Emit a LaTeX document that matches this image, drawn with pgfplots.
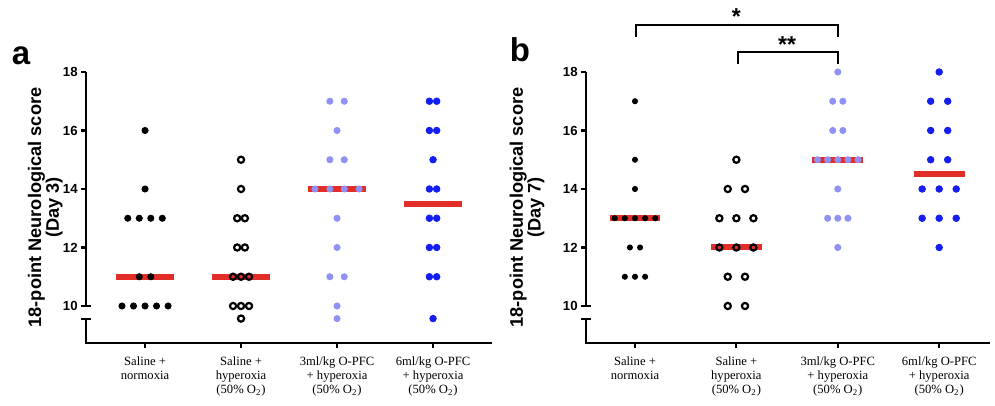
\documentclass[border=0pt]{standalone}
\usepackage{fontspec}
\setmainfont{Liberation Serif}
\setsansfont{Liberation Sans}
\usepackage{pgfplots}
\pgfplotsset{compat=1.18}

\definecolor{medred}{RGB}{226,46,40}
\definecolor{ltblue}{RGB}{145,145,245}
\definecolor{dkblue}{RGB}{20,30,240}

\pgfplotsset{
  prism/.style={
    axis x line=bottom, axis y line=left,
    axis line style={draw=none},
    ymin=8.735, ymax=18,
    ytick={10,12,14,16,18},
    xtick={0,1,2,3},
    tick align=outside,
    major tick length=2.5pt,
    every tick/.style={black, line width=1.1pt},
    yticklabel style={font=\sffamily\bfseries\fontsize{6.6}{7}\selectfont, inner sep=1.5pt},
    xticklabel style={font=\fontsize{6.3}{6.8}\selectfont, align=center, yshift=-1pt},
    /pgf/number format/assume math mode=true,
    clip=false,
    ylabel style={font=\sffamily\bfseries\fontsize{9.1}{8.9}\selectfont, align=center, anchor=center},
    anchor=south west,
    y=14.625pt,
  },
  median/.style={medred, line width=3pt, forget plot},
  blackdot/.style={only marks, mark=*, mark size=1.55pt, black},
  opendot/.style={only marks, mark=o, mark size=1.55pt, black, mark options={line width=1.1pt}},
  ltdot/.style={only marks, mark=*, mark size=1.55pt, ltblue},
  bldot/.style={only marks, mark=*, mark size=1.65pt, dkblue},
}

\begin{document}
\begin{tikzpicture}
\path[use as bounding box] (0,0) rectangle (497.5pt,-203pt);
\node[anchor=base, font=\sffamily\bfseries\fontsize{16.5}{16.5}\selectfont] at (10.5pt,-32.5pt) {a};
\node[anchor=base, font=\sffamily\bfseries\fontsize{16.5}{16.5}\selectfont] at (260pt,-31pt) {b};

% Day 3
\begin{axis}[prism, at={(43pt,-171.5pt)}, x=48pt, xmin=-0.615, xmax=3.615,
  ylabel={18-point Neurological score\\(Day 3)},
  ylabel style={at={(axis description cs:-0.1,0.5)}},
  xticklabels={{Saline +\\normoxia},{Saline +\\hyperoxia\\(50\% O\textsubscript{2})},
    {3ml/kg O-PFC\\+ hyperoxia\\(50\% O\textsubscript{2})},{6ml/kg O-PFC\\+ hyperoxia\\(50\% O\textsubscript{2})}}]
\draw[line width=1.2pt] (axis cs:-0.615,18) -- (axis cs:-0.615,10);
\draw[line width=1.1pt] ([xshift=-2.5pt]axis cs:-0.615,10) -- ([xshift=2.5pt]axis cs:-0.615,10);
\draw[line width=1.1pt] ([xshift=-2.5pt]axis cs:-0.615,9.556) -- ([xshift=2.5pt]axis cs:-0.615,9.556);
\draw[line width=1.2pt, line join=miter] (axis cs:-0.615,9.556) -- (axis cs:-0.615,8.735) -- (axis cs:3.615,8.735);

\addplot[median] coordinates {(-0.3,11) (0.3,11)};
\addplot[median] coordinates {(0.7,11) (1.3,11)};
\addplot[median] coordinates {(1.7,14) (2.3,14)};
\addplot[median] coordinates {(2.7,13.5) (3.3,13.5)};

\addplot[blackdot] coordinates {
  (0,16) (0,14)
  (-0.18,13) (-0.06,13) (0.06,13) (0.18,13)
  (-0.06,11) (0.06,11)
  (-0.24,10) (-0.12,10) (0,10) (0.12,10) (0.24,10)};
\addplot[opendot] coordinates {
  (1,15) (1,14)
  (0.96,13) (1.04,13)
  (0.96,12) (1.04,12)
  (0.917,11) (1,11) (1.083,11)
  (0.917,10) (1,10) (1.083,10)
  (1,9.57)};
\addplot[ltdot] coordinates {
  (1.925,17) (2.075,17)
  (2,16)
  (1.925,15) (2.075,15)
  (1.77,14) (1.925,14) (2.075,14) (2.23,14)
  (2,13) (2,12)
  (1.925,11) (2.075,11)
  (2,10) (2,9.57)};
\addplot[bldot] coordinates {
  (2.962,17) (3.038,17)
  (2.962,16) (3.038,16)
  (3,15)
  (2.962,14) (3.038,14)
  (2.962,13) (3.038,13)
  (2.962,12) (3.038,12)
  (2.962,11) (3.038,11)
  (3,9.57)};
\end{axis}

% Day 7
\begin{axis}[prism, at={(293pt,-171.5pt)}, x=50.7pt, xmin=-0.483, xmax=3.5,
  ylabel={18-point Neurological score\\(Day 7)},
  ylabel style={at={(axis description cs:-0.146,0.5)}},
  xticklabels={{Saline +\\normoxia},{Saline +\\hyperoxia\\(50\% O\textsubscript{2})},
    {3ml/kg O-PFC\\+ hyperoxia\\(50\% O\textsubscript{2})},{6ml/kg O-PFC\\+ hyperoxia\\(50\% O\textsubscript{2})}}]
\draw[line width=1.2pt] (axis cs:-0.483,18) -- (axis cs:-0.483,10);
\draw[line width=1.1pt] ([xshift=-2.5pt]axis cs:-0.483,10) -- ([xshift=2.5pt]axis cs:-0.483,10);
\draw[line width=1.1pt] ([xshift=-2.5pt]axis cs:-0.483,9.556) -- ([xshift=2.5pt]axis cs:-0.483,9.556);
\draw[line width=1.2pt, line join=miter] (axis cs:-0.483,9.556) -- (axis cs:-0.483,8.735) -- (axis cs:3.5,8.735);

\addplot[median] coordinates {(-0.25,13) (0.25,13)};
\addplot[median] coordinates {(0.75,12) (1.25,12)};
\addplot[median] coordinates {(1.75,15) (2.25,15)};
\addplot[median] coordinates {(2.75,14.5) (3.25,14.5)};

\addplot[blackdot, mark size=1.3pt] coordinates {
  (0,17) (0,15) (0,14)
  (-0.2,13) (-0.1,13) (0,13) (0.1,13) (0.2,13)
  (-0.05,12) (0.05,12)
  (-0.1,11) (0,11) (0.1,11)};
\addplot[opendot] coordinates {
  (1,15)
  (0.915,14) (1.085,14)
  (0.832,13) (1,13) (1.168,13)
  (0.832,12) (1,12) (1.168,12)
  (0.915,11) (1.085,11)
  (0.915,10) (1.085,10)};
\addplot[ltdot] coordinates {
  (2,18)
  (1.95,17) (2.05,17)
  (1.95,16) (2.05,16)
  (1.8,15) (1.9,15) (2,15) (2.1,15) (2.2,15)
  (2,14)
  (1.9,13) (2,13) (2.1,13)
  (2,12)};
\addplot[bldot] coordinates {
  (3,18)
  (2.916,17) (3.084,17)
  (2.916,16) (3.084,16)
  (2.916,15) (3.084,15)
  (2.832,14) (3,14) (3.168,14)
  (2.832,13) (3,13) (3.168,13)
  (3,12)};

% significance brackets
\draw[line width=1pt] (axis cs:0.01,19.2) -- (axis cs:0.01,19.61) -- (axis cs:2,19.61) -- (axis cs:2,19.2);
\draw[line width=1pt] (axis cs:1.02,18.27) -- (axis cs:1.02,18.68) -- (axis cs:2,18.68) -- (axis cs:2,18.27);
\node[anchor=base, font=\sffamily\bfseries\fontsize{11.5}{11.5}\selectfont] at (axis cs:1,19.64) {*};
\node[anchor=base, font=\sffamily\bfseries\fontsize{11.5}{11.5}\selectfont] at (axis cs:1.5,18.65) {**};
\end{axis}
\end{tikzpicture}
\end{document}
